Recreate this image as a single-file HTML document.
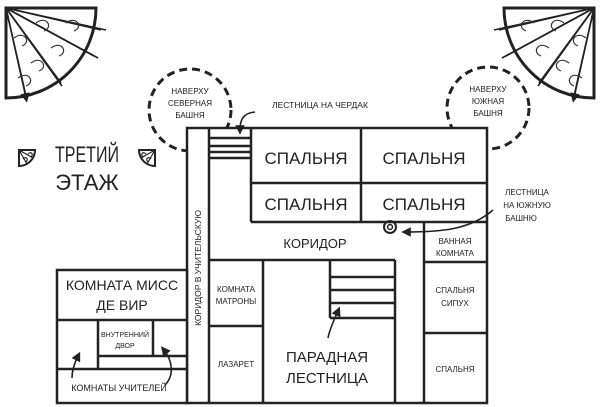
<!DOCTYPE html>
<html><head><meta charset="utf-8"><style>
html,body{margin:0;padding:0;background:#fff;}
svg{display:block}
text{font-family:"Liberation Sans","DejaVu Sans",sans-serif;fill:#222;text-anchor:middle}
</style></head><body>
<svg width="600" height="407" viewBox="0 0 600 407" xmlns="http://www.w3.org/2000/svg">
<defs>
<marker id="ah" markerWidth="6" markerHeight="6" refX="3" refY="3" orient="auto"><path d="M0,0 L6,3 L0,6 z" fill="#222"/></marker>
<g id="fan">
<path d="M0,0 L90,0 A90,90 0 0 1 0,90 Z" fill="#fff" stroke="#222" stroke-width="3"/>
<path d="M0,0 L95,22 M0,0 L88,48 M0,0 L55,75 M0,0 L20,88" stroke="#222" stroke-width="1.6" fill="none"/>
<path d="M0,0 L100,22 M0,0 L92,50 M0,0 L56,78 M0,0 L20,90" stroke="#222" stroke-width="1.6" marker-end="url(#ah)"/>
<path d="M8,30 c10,-8 18,4 8,8 M30,15 c10,-8 18,4 8,8 M45,40 c10,-8 18,4 8,8 M25,55 c10,-8 18,4 8,8 M12,70 c10,-8 18,4 8,8 M60,15 c10,-8 18,4 8,8" stroke="#333" stroke-width="1.2" fill="none"/>
</g>
<g id="mini">
<path d="M0,0 L16,0 A16,16 0 0 1 0,16 Z" fill="#fff" stroke="#222" stroke-width="2"/>
<path d="M0,0 L14,8 M0,0 L8,14 M4,9 c3,-3 6,0 3,3 M9,4 c3,-3 6,0 3,3" stroke="#222" stroke-width="1.2" fill="none"/>
</g>
</defs>

<!-- corner fans -->
<use href="#fan" transform="translate(6,8)"/>
<use href="#fan" transform="translate(594,8) scale(-1,1)"/>

<!-- dashed tower circles -->
<circle cx="190" cy="110" r="41" fill="none" stroke="#222" stroke-width="3" stroke-dasharray="8,5"/>
<circle cx="488" cy="108" r="41" fill="none" stroke="#222" stroke-width="3" stroke-dasharray="8,5"/>

<!-- building -->
<g fill="#fff" stroke="#222" stroke-width="2.5">
<rect x="187" y="128" width="300" height="275"/>
<rect x="57" y="270" width="130" height="133"/>
</g>
<g stroke="#222" stroke-width="2.5" fill="none">
<!-- corridor to teachers -->
<line x1="209" y1="128" x2="209" y2="403"/>
<!-- stairs to attic -->
<line x1="251" y1="128" x2="251" y2="222"/>
<line x1="210" y1="138" x2="251" y2="138"/>
<line x1="210" y1="146" x2="251" y2="146"/>
<line x1="210" y1="152" x2="251" y2="152"/>
<line x1="210" y1="158" x2="251" y2="158"/>
<!-- bedrooms -->
<line x1="251" y1="222" x2="487" y2="222"/>
<line x1="251" y1="183" x2="487" y2="183"/>
<line x1="361" y1="128" x2="361" y2="222"/>
<!-- right rooms -->
<line x1="424" y1="222" x2="424" y2="403"/>
<line x1="424" y1="262" x2="487" y2="262"/>
<line x1="424" y1="333" x2="487" y2="333"/>
<!-- lower middle -->
<line x1="209" y1="260" x2="395" y2="260"/>
<line x1="263" y1="260" x2="263" y2="403"/>
<line x1="209" y1="326" x2="263" y2="326"/>
<line x1="395" y1="260" x2="395" y2="403"/>
<!-- grand stairs -->
<line x1="330" y1="260" x2="330" y2="318"/>
<line x1="330" y1="277" x2="395" y2="277"/>
<line x1="330" y1="290" x2="395" y2="290"/>
<line x1="330" y1="303" x2="395" y2="303"/>
<line x1="330" y1="318" x2="395" y2="318"/>
<!-- left wing -->
<line x1="57" y1="320" x2="187" y2="320"/>
<line x1="57" y1="369" x2="187" y2="369"/>
<line x1="98" y1="320" x2="98" y2="369"/>
<line x1="153" y1="320" x2="153" y2="356"/>
<line x1="98" y1="356" x2="187" y2="356"/>
</g>
<!-- spiral -->
<circle cx="390" cy="227" r="6" fill="none" stroke="#222" stroke-width="2"/>
<circle cx="390" cy="227" r="2.5" fill="none" stroke="#222" stroke-width="1.5"/>

<!-- arrows -->
<g stroke="#222" stroke-width="1.6" fill="none">
<path d="M255,112 C243,113 240,120 240,130" marker-end="url(#ah)"/>
<path d="M493,210 C470,230 440,232 406,232" marker-end="url(#ah)"/>
<path d="M328,338 C330,328 334,320 338,311" marker-end="url(#ah)"/>
<path d="M72,378 C72,370 75,362 78,356" marker-end="url(#ah)"/>
<path d="M165,385 C175,375 172,360 164,350" marker-end="url(#ah)"/>
</g>

<!-- title -->
<text x="87" y="162" font-size="22" textLength="64" lengthAdjust="spacingAndGlyphs">ТРЕТИЙ</text>
<text x="87" y="190" font-size="22">ЭТАЖ</text>
<use href="#mini" transform="translate(19,150)"/>
<use href="#mini" transform="translate(155,150) scale(-1,1)"/>

<!-- labels -->
<g font-size="8">
<text x="190" y="94">НАВЕРХУ</text><text x="190" y="106">СЕВЕРНАЯ</text><text x="190" y="118">БАШНЯ</text>
<text x="488" y="92">НАВЕРХУ</text><text x="488" y="104">ЮЖНАЯ</text><text x="488" y="116">БАШНЯ</text>
<text x="320" y="108" font-size="8.5">ЛЕСТНИЦА НА ЧЕРДАК</text>
<text x="527" y="195">ЛЕСТНИЦА</text><text x="527" y="208">НА ЮЖНУЮ</text><text x="521" y="221">БАШНЮ</text>
<text x="455" y="244">ВАННАЯ</text><text x="455" y="256">КОМНАТА</text>
<text x="455" y="293">СПАЛЬНЯ</text><text x="455" y="306">СИПУХ</text>
<text x="455" y="372">СПАЛЬНЯ</text>
<text x="236" y="292">КОМНАТА</text><text x="236" y="304">МАТРОНЫ</text>
<text x="236" y="367">ЛАЗАРЕТ</text>
<text x="125" y="337" font-size="7">ВНУТРЕННИЙ</text><text x="125" y="348" font-size="7">ДВОР</text>
<text x="119" y="391" font-size="9">КОМНАТЫ УЧИТЕЛЕЙ</text>
</g>
<text x="0" y="0" font-size="8.5" transform="translate(201,268) rotate(-90)">КОРИДОР В УЧИТЕЛЬСКУЮ</text>
<g font-size="17">
<text x="306" y="164">СПАЛЬНЯ</text><text x="424" y="164">СПАЛЬНЯ</text>
<text x="306" y="210">СПАЛЬНЯ</text><text x="424" y="210">СПАЛЬНЯ</text>
</g>
<text x="315" y="248" font-size="13">КОРИДОР</text>
<text x="327" y="362" font-size="15">ПАРАДНАЯ</text>
<text x="327" y="383" font-size="15">ЛЕСТНИЦА</text>
<text x="122" y="290" font-size="14">КОМНАТА МИСС</text>
<text x="122" y="310" font-size="14">ДЕ ВИР</text>
</svg>
</body></html>
